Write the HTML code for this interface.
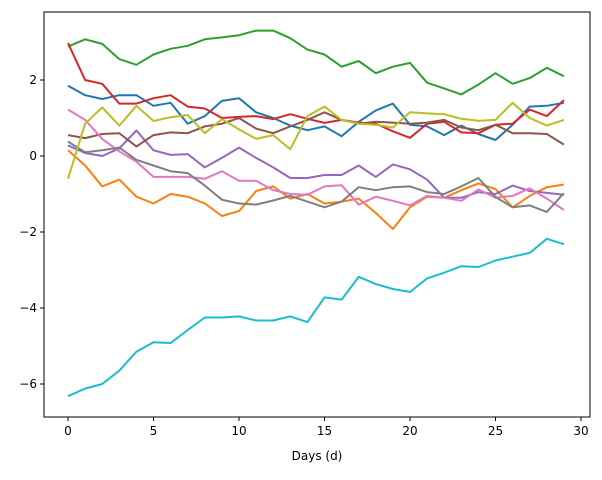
<!DOCTYPE html>
<html><head><meta charset="utf-8"><style>
body{margin:0;background:#fff;}
svg text{font-family:"DejaVu Sans","Liberation Sans",sans-serif;font-size:12px;fill:#000;}
</style></head><body>
<svg id="chart" width="602" height="475" xmlns="http://www.w3.org/2000/svg">
<rect width="602" height="475" fill="#fff"/>
<g id="series"></g>
<g id="axes"></g>
</svg>
<script>
const days = Array.from({length:30},(_,i)=>i);
const s0 = [1.85,1.6,1.5,1.6,1.6,1.32,1.4,0.85,1.05,1.45,1.52,1.15,1.0,0.8,0.68,0.78,0.52,0.9,1.2,1.38,0.82,0.78,0.55,0.8,0.58,0.42,0.82,1.3,1.32,1.4];
const s1 = [0.15,-0.25,-0.8,-0.62,-1.07,-1.25,-1.0,-1.07,-1.25,-1.58,-1.45,-0.92,-0.8,-1.12,-1.0,-1.25,-1.2,-1.12,-1.5,-1.92,-1.35,-1.07,-1.1,-0.9,-0.72,-0.87,-1.35,-1.05,-0.82,-0.75];
const s2 = [2.88,3.07,2.95,2.55,2.4,2.67,2.82,2.9,3.07,3.12,3.18,3.3,3.3,3.1,2.8,2.67,2.35,2.5,2.18,2.35,2.45,1.93,1.78,1.62,1.88,2.18,1.9,2.05,2.32,2.1];
const s3 = [2.97,2.0,1.9,1.38,1.38,1.52,1.6,1.3,1.25,1.0,1.03,1.05,0.97,1.1,0.98,0.87,0.95,0.88,0.85,0.65,0.48,0.85,0.9,0.62,0.6,0.82,0.85,1.22,1.05,1.47];
const s4 = [0.28,0.08,0.0,0.2,0.67,0.15,0.03,0.05,-0.3,-0.05,0.22,-0.05,-0.3,-0.58,-0.58,-0.5,-0.5,-0.25,-0.55,-0.22,-0.35,-0.62,-1.1,-1.1,-0.95,-1.0,-0.78,-0.92,-0.97,-1.02];
const s5 = [0.55,0.47,0.58,0.6,0.25,0.55,0.62,0.6,0.78,0.85,1.0,0.72,0.6,0.78,0.95,1.15,0.95,0.85,0.9,0.88,0.85,0.88,0.95,0.75,0.68,0.82,0.6,0.6,0.58,0.3];
const s6 = [1.22,0.95,0.45,0.12,-0.15,-0.55,-0.55,-0.55,-0.6,-0.4,-0.65,-0.65,-0.9,-1.0,-1.02,-0.8,-0.77,-1.28,-1.07,-1.18,-1.3,-1.05,-1.1,-1.18,-0.88,-1.1,-1.05,-0.85,-1.12,-1.42];
const s7 = [0.38,0.1,0.15,0.22,-0.1,-0.25,-0.4,-0.45,-0.78,-1.15,-1.25,-1.28,-1.17,-1.05,-1.2,-1.35,-1.2,-0.82,-0.9,-0.82,-0.8,-0.95,-1.0,-0.8,-0.58,-1.08,-1.35,-1.3,-1.47,-0.98];
const s8 = [-0.6,0.85,1.28,0.8,1.32,0.92,1.02,1.08,0.6,0.97,0.7,0.45,0.55,0.18,1.05,1.3,0.95,0.85,0.82,0.75,1.15,1.12,1.1,0.98,0.93,0.95,1.4,1.0,0.8,0.95];
const s9 = [-6.32,-6.12,-6.0,-5.65,-5.15,-4.9,-4.92,-4.58,-4.25,-4.25,-4.22,-4.33,-4.33,-4.22,-4.37,-3.72,-3.78,-3.18,-3.37,-3.5,-3.58,-3.22,-3.07,-2.9,-2.92,-2.75,-2.65,-2.55,-2.18,-2.32];
const xTicks = [0,5,10,15,20,25,30];
const yTicks = [-6,-4,-2,0,2];
const xLabel = "Days (d)";

const NS="http://www.w3.org/2000/svg";
const L=44,R=590,T=12,B=417;
const xS=v=>68+v*(581-68)/30;
const yS=v=>156-v*38;
const series=[s0,s1,s2,s3,s4,s5,s6,s7,s8,s9];
const colors=["#1f77b4","#ff7f0e","#2ca02c","#d62728","#9467bd","#8c564b","#e377c2","#7f7f7f","#bcbd22","#17becf"];
const sg=document.getElementById('series');
series.forEach((s,k)=>{
  const p=document.createElementNS(NS,'polyline');
  p.setAttribute('points',s.map((v,i)=>xS(days[i]).toFixed(1)+','+yS(v).toFixed(1)).join(' '));
  p.setAttribute('fill','none');p.setAttribute('stroke',colors[k]);p.setAttribute('stroke-width','2');
  p.setAttribute('stroke-linejoin','round');
  
  
  sg.appendChild(p);
});
const ag=document.getElementById('axes');
const fr=document.createElementNS(NS,'rect');
fr.setAttribute('x',L);fr.setAttribute('y',T);fr.setAttribute('width',R-L);fr.setAttribute('height',B-T);
fr.setAttribute('fill','none');fr.setAttribute('stroke','#000');fr.setAttribute('stroke-width','1');


ag.appendChild(fr);
xTicks.forEach(t=>{
  const x=xS(t);
  const l=document.createElementNS(NS,'line');
  l.setAttribute('x1',x);l.setAttribute('x2',x);l.setAttribute('y1',B);l.setAttribute('y2',B+4);l.setAttribute('stroke','#000');
  
  
  ag.appendChild(l);
  const tx=document.createElementNS(NS,'text');
  tx.setAttribute('x',x);tx.setAttribute('y',B+18);tx.setAttribute('text-anchor','middle');tx.textContent=t;
  
  
  ag.appendChild(tx);
});
yTicks.forEach(t=>{
  const y=yS(t);
  const l=document.createElementNS(NS,'line');
  l.setAttribute('x1',L-4);l.setAttribute('x2',L);l.setAttribute('y1',y);l.setAttribute('y2',y);l.setAttribute('stroke','#000');
  
  
  ag.appendChild(l);
  const tx=document.createElementNS(NS,'text');
  tx.setAttribute('x',L-7);tx.setAttribute('y',y+4);tx.setAttribute('text-anchor','end');tx.textContent=(t<0?'\u2212'+(-t):t);
  
  
  ag.appendChild(tx);
});
const xl=document.createElementNS(NS,'text');
xl.setAttribute('x',(L+R)/2);xl.setAttribute('y',460);xl.setAttribute('text-anchor','middle');xl.textContent=xLabel;


ag.appendChild(xl);
</script>
</body></html>
